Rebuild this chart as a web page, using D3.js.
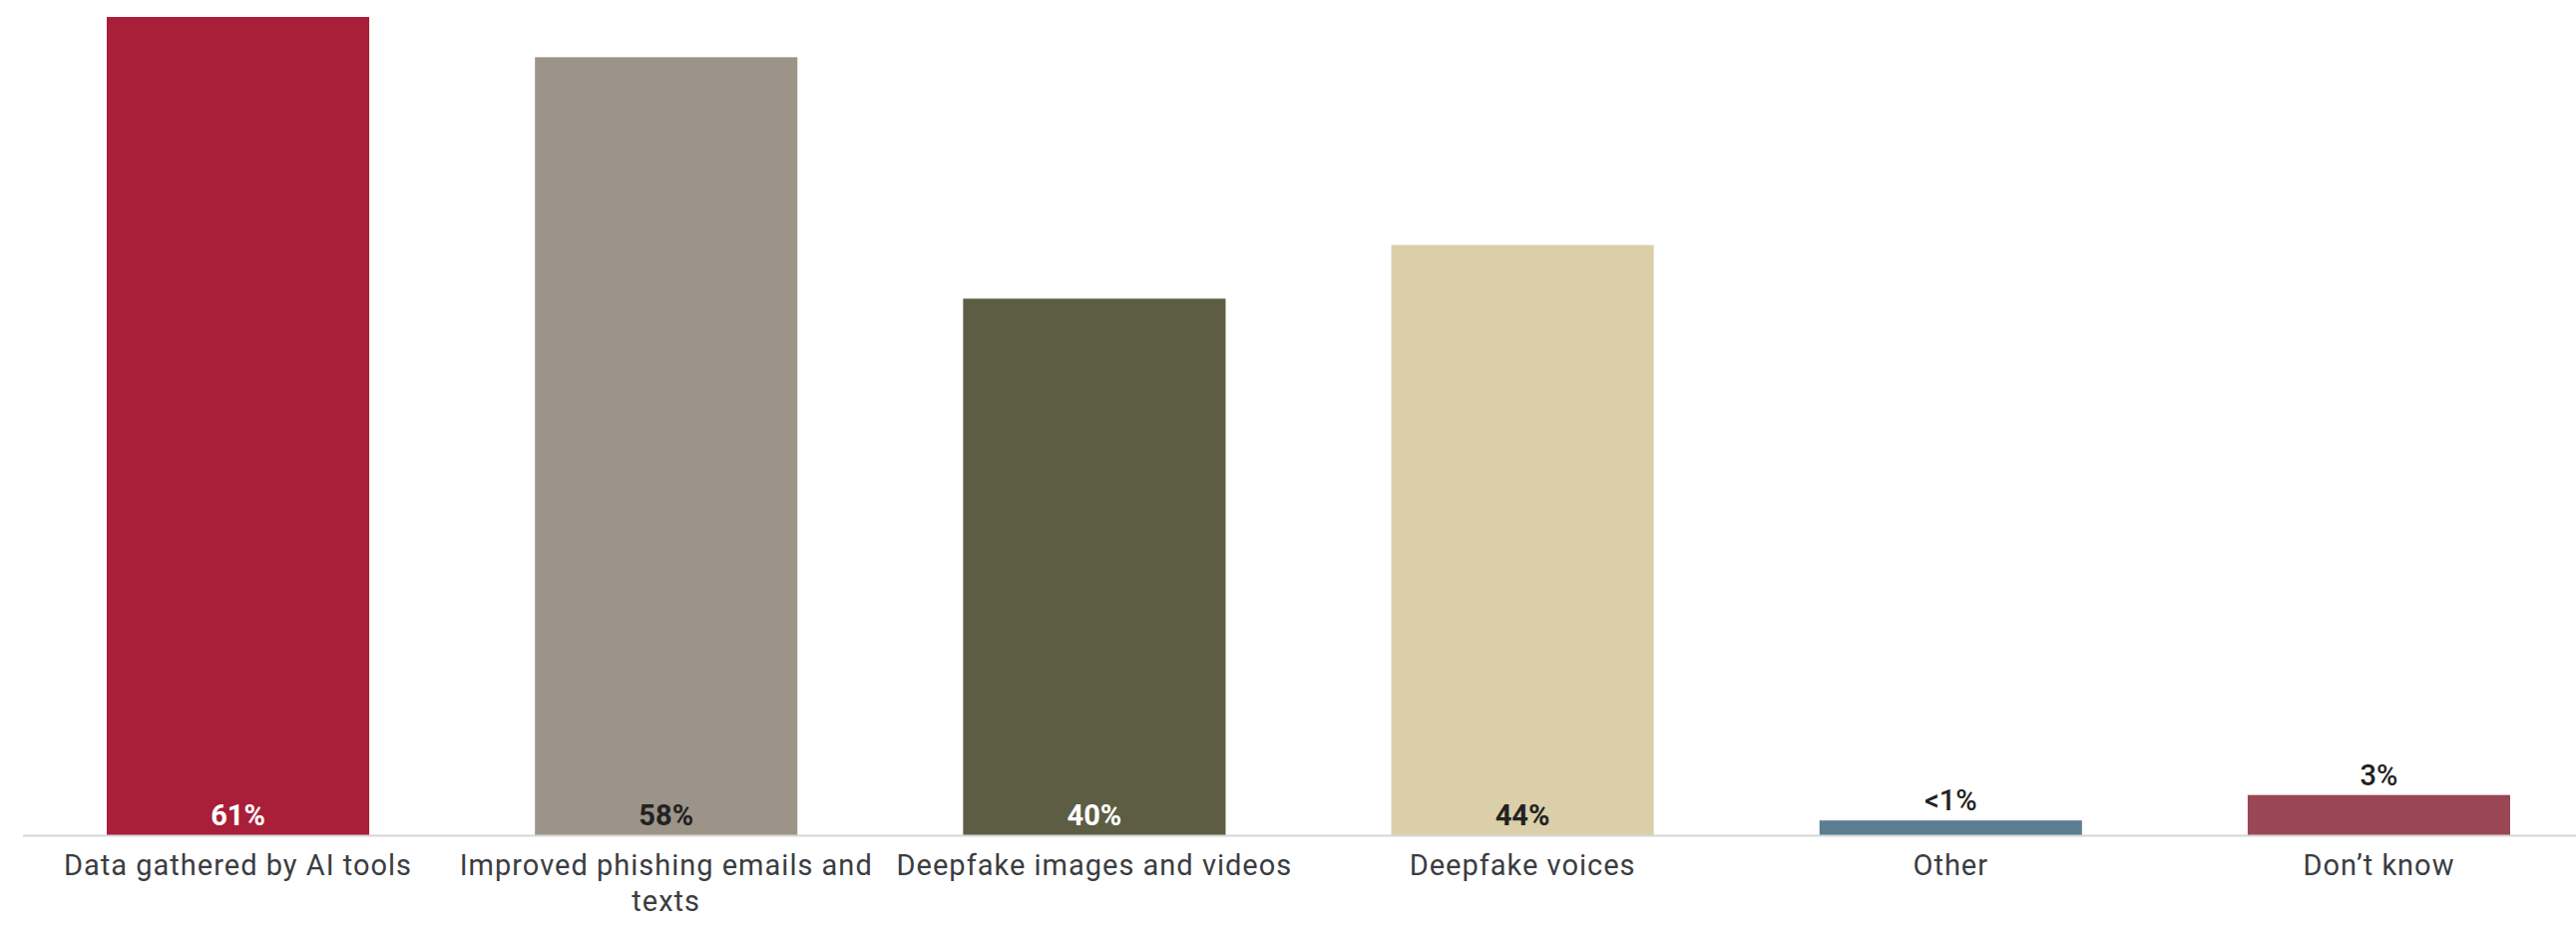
<!DOCTYPE html>
<html>
<head>
<meta charset="utf-8">
<script src="https://cdn.jsdelivr.net/npm/d3@7"></script>
<style>
  body { margin: 0; background: #fff; }
  svg { display: block; font-family: Roboto, "Noto Sans", sans-serif; }
</style>
</head>
<body>
<svg id="canvas" width="2582" height="944"></svg>
<script>
let categories = [
  "Data gathered by AI tools",
  "Improved phishing emails and texts",
  "Deepfake images and videos",
  "Deepfake voices",
  "Other",
  "Don\u2019t know"
];
let values = [61, 58, 40, 44, 1.1, 3];
let valueLabels = ["61%", "58%", "40%", "44%", "<1%", "3%"];
let barColors = ["#a91e38", "#9c9489", "#5c5d43", "#dbcfa9", "#5b7d92", "#9a4654"];
let labelInside = [true, true, true, true, false, false];
let labelColors = ["#ffffff", "#222222", "#ffffff", "#222222", "#222222", "#222222"];

let svg = d3.select("#canvas");
let width = 2582;
let baseline = 837;

let x = d3.scaleBand()
  .domain(categories)
  .range([107, 2516])
  .paddingInner(0.387)
  .paddingOuter(0);

let y = d3.scaleLinear()
  .domain([0, d3.max(values)])
  .range([baseline, 17]);

let rows = categories.map((c, i) => ({
  name: c, value: values[i], label: valueLabels[i],
  color: barColors[i], inside: labelInside[i], textColor: labelColors[i]
}));

// bars
svg.selectAll("rect.bar")
  .data(rows)
  .enter()
  .append("rect")
  .attr("class", "bar")
  .attr("x", d => x(d.name))
  .attr("y", d => y(d.value))
  .attr("width", x.bandwidth())
  .attr("height", d => baseline - y(d.value))
  .attr("fill", d => d.color);

// axis line
svg.append("line")
  .attr("x1", 23)
  .attr("x2", width)
  .attr("y1", baseline + 0.5)
  .attr("y2", baseline + 0.5)
  .attr("stroke", "#d6d6d6")
  .attr("stroke-width", 2);

// value labels
svg.selectAll("text.value")
  .data(rows)
  .enter()
  .append("text")
  .attr("class", "value")
  .attr("x", d => x(d.name) + x.bandwidth() / 2)
  .attr("y", d => d.inside ? baseline - 10 : y(d.value) - 10)
  .attr("text-anchor", "middle")
  .attr("font-size", 29)
  .attr("font-weight", d => d.inside ? 700 : 500)
  .attr("fill", d => d.textColor)
  .text(d => d.label);

// category labels, wrapped to the band step
let wrap = (textSel, maxWidth) => {
  textSel.each(function () {
    let text = d3.select(this);
    let words = text.text().split(/\s+/);
    let cx = text.attr("x");
    text.text(null);
    let line = [];
    let tspan = text.append("tspan").attr("x", cx).attr("dy", 0);
    words.forEach(w => {
      line.push(w);
      tspan.text(line.join(" "));
      if (tspan.node().getComputedTextLength() > maxWidth && line.length > 1) {
        line.pop();
        tspan.text(line.join(" "));
        line = [w];
        tspan = text.append("tspan").attr("x", cx).attr("dy", 36).text(w);
      }
    });
  });
};

svg.selectAll("text.cat")
  .data(rows)
  .enter()
  .append("text")
  .attr("class", "cat")
  .attr("x", d => x(d.name) + x.bandwidth() / 2)
  .attr("y", 877)
  .attr("text-anchor", "middle")
  .attr("font-size", 29)
  .attr("letter-spacing", 1)
  .attr("fill", "#3a3d42")
  .text(d => d.name)
  .call(wrap, x.step() - 5);
</script>
</body>
</html>
